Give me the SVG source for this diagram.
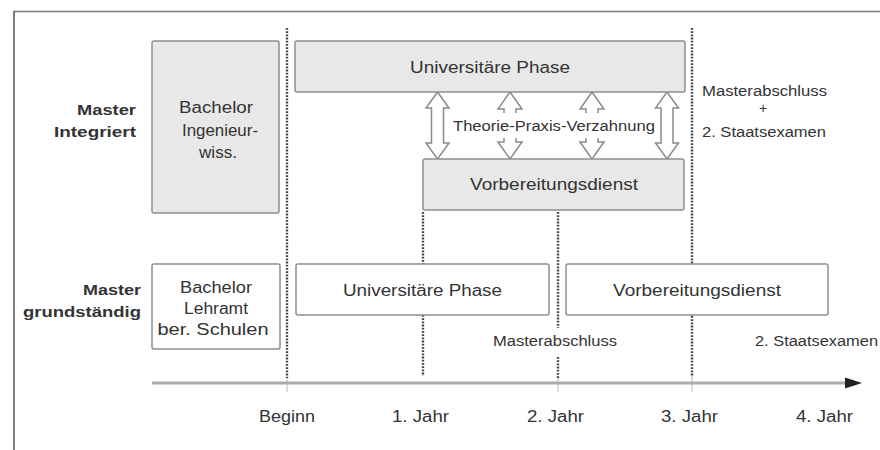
<svg xmlns="http://www.w3.org/2000/svg" width="880" height="450" viewBox="0 0 880 450">
<style>
text{font-family:"Liberation Sans",Arial,sans-serif;fill:#333}
.t16{font-size:16px}
.t14{font-size:14px}
.b{font-size:15px;font-weight:bold;text-anchor:end}
.c{text-anchor:middle}
.box{fill:#e8e8e8;stroke:#8f8f8f;stroke-width:1.5}
.wbox{fill:#fff;stroke:#8f8f8f;stroke-width:1.5}
.dot{stroke:#444;stroke-width:2.4;stroke-dasharray:1.8 1.4;fill:none}
.faint{stroke:#d0d0d0;stroke-width:1.5}
.arr{fill:#fff;stroke:#8a8a8a;stroke-width:1.5;stroke-linejoin:miter}
</style>
<rect x="0" y="0" width="880" height="450" fill="#fff"/>
<g id="frame">
<line x1="14" y1="11.5" x2="880" y2="11.5" stroke="#777" stroke-width="1.5"/>
<line x1="14" y1="11" x2="14" y2="450" stroke="#555" stroke-width="1.5"/>
</g>
<g id="gridlines">
<line class="dot" x1="287" y1="28" x2="287" y2="378"/>
<line class="faint" x1="287" y1="378" x2="287" y2="392"/>
<line class="dot" x1="423" y1="212" x2="423" y2="264"/>
<line class="dot" x1="423" y1="315" x2="423" y2="376"/>
<line class="dot" x1="558" y1="212" x2="558" y2="328"/>
<line class="dot" x1="558" y1="357" x2="558" y2="378"/>
<line class="faint" x1="558" y1="378" x2="558" y2="392"/>
<line class="dot" x1="692" y1="28" x2="692" y2="377"/>
<line class="faint" x1="692" y1="377" x2="692" y2="392"/>
</g>
<g id="connectors">
<path class="arr" d="M437.5,92 L449,108 L443.5,108 L443.5,143 L449,143 L437.5,159 L426,143 L431.5,143 L431.5,108 L426,108 Z"/>
<path class="arr" d="M667,92 L678.5,108 L673,108 L673,143 L678.5,143 L667,159 L655.5,143 L661,143 L661,108 L655.5,108 Z"/>
<path class="arr" d="M504,113 L504,109 L498,109 L510,92 L522,109 L516,109 L516,113"/>
<path class="arr" d="M504,138 L504,142 L498,142 L510,159 L522,142 L516,142 L516,138"/>
<path class="arr" d="M586,113 L586,109 L580,109 L592,92 L604,109 L598,109 L598,113"/>
<path class="arr" d="M586,138 L586,142 L580,142 L592,159 L604,142 L598,142 L598,138"/>
<text class="t14 c" x="554" y="131" textLength="202" lengthAdjust="spacingAndGlyphs">Theorie-Praxis-Verzahnung</text>
<line x1="152" y1="383" x2="848" y2="383" stroke="#ababab" stroke-width="3"/>
<polygon points="845,377.5 862,383 845,388.5" fill="#222"/>
</g>
<g id="label-master-integriert">
<text class="b" x="136" y="115" textLength="59" lengthAdjust="spacingAndGlyphs">Master</text>
<text class="b" x="136" y="137" textLength="82" lengthAdjust="spacingAndGlyphs">Integriert</text>
</g>
<g id="label-master-grundstaendig">
<text class="b" x="141" y="295" textLength="58" lengthAdjust="spacingAndGlyphs">Master</text>
<text class="b" x="141" y="317" textLength="118" lengthAdjust="spacingAndGlyphs">grundständig</text>
</g>
<g id="node-bachelor-ing">
<rect class="box" x="152" y="41" width="127" height="172" rx="2"/>
<text class="t16 c" x="216" y="113" textLength="74" lengthAdjust="spacingAndGlyphs">Bachelor</text>
<text class="t16 c" x="220" y="135.5" textLength="76" lengthAdjust="spacingAndGlyphs">Ingenieur-</text>
<text class="t16 c" x="218" y="158" textLength="38" lengthAdjust="spacingAndGlyphs">wiss.</text>
</g>
<g id="node-uni-top">
<rect class="box" x="295" y="41" width="390" height="51" rx="2"/>
<text class="t16 c" x="490" y="72.5" textLength="160" lengthAdjust="spacingAndGlyphs">Universitäre Phase</text>
</g>
<g id="node-vd-top">
<rect class="box" x="423" y="159" width="261" height="51" rx="2"/>
<text class="t16 c" x="554" y="190" textLength="168" lengthAdjust="spacingAndGlyphs">Vorbereitungsdienst</text>
</g>
<g id="label-top-right">
<text class="t14" x="702" y="96" textLength="125" lengthAdjust="spacingAndGlyphs">Masterabschluss</text>
<text class="t14 c" x="763" y="113">+</text>
<text class="t14" x="702" y="137" textLength="124" lengthAdjust="spacingAndGlyphs">2. Staatsexamen</text>
</g>
<g id="node-bachelor-lehramt">
<rect class="wbox" x="152" y="264" width="128" height="85" rx="2"/>
<text class="t16 c" x="216" y="293" textLength="72" lengthAdjust="spacingAndGlyphs">Bachelor</text>
<text class="t16 c" x="216" y="314" textLength="64" lengthAdjust="spacingAndGlyphs">Lehramt</text>
<text class="t16 c" x="213" y="335" textLength="111" lengthAdjust="spacingAndGlyphs">ber. Schulen</text>
</g>
<g id="node-uni-bottom">
<rect class="wbox" x="296" y="264" width="253" height="51" rx="2"/>
<text class="t16 c" x="422.5" y="296" textLength="159" lengthAdjust="spacingAndGlyphs">Universitäre Phase</text>
</g>
<g id="node-vd-bottom">
<rect class="wbox" x="566" y="264" width="262" height="51" rx="2"/>
<text class="t16 c" x="697" y="296" textLength="168" lengthAdjust="spacingAndGlyphs">Vorbereitungsdienst</text>
</g>
<g id="label-bottom">
<text class="t14 c" x="555" y="346" textLength="124" lengthAdjust="spacingAndGlyphs">Masterabschluss</text>
<text class="t14" x="755" y="346" textLength="123" lengthAdjust="spacingAndGlyphs">2. Staatsexamen</text>
</g>
<g id="axis-labels">
<text class="t16 c" x="287" y="421.5" textLength="56" lengthAdjust="spacingAndGlyphs">Beginn</text>
<text class="t16 c" x="420.5" y="421.5" textLength="57" lengthAdjust="spacingAndGlyphs">1. Jahr</text>
<text class="t16 c" x="555.5" y="421.5" textLength="57" lengthAdjust="spacingAndGlyphs">2. Jahr</text>
<text class="t16 c" x="689.5" y="421.5" textLength="57" lengthAdjust="spacingAndGlyphs">3. Jahr</text>
<text class="t16 c" x="824.5" y="421.5" textLength="57" lengthAdjust="spacingAndGlyphs">4. Jahr</text>
</g>
</svg>
